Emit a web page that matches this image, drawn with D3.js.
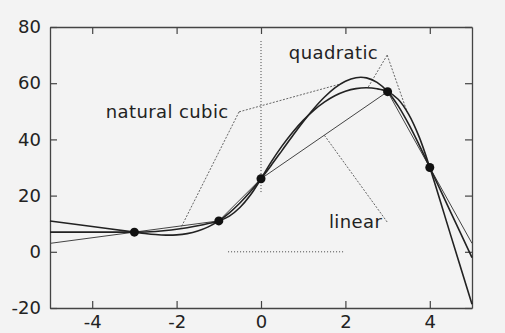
<!DOCTYPE html>
<html>
<head>
<meta charset="utf-8">
<script src="https://cdn.jsdelivr.net/npm/d3@7"></script>
<style>
  body { margin: 0; background: #f3f3f3; }
  text { font-family: "DejaVu Sans", Verdana, sans-serif; fill: #222; }
</style>
</head>
<body>
<script>

// data points the curves pass through
const knotX = [-3, -1, 0, 3, 4];
const knotY = [7, 11, 26, 57, 30];

// linear interpolation (with straight extrapolation at the ends)
const linearX = [-5, -3, -1, 0, 3, 4, 5];
const linearY = [3, 7, 11, 26, 57, 30, 3];

// curves
const sampleX = [-5, -4, -3, -2.75, -2.5, -2.25, -2, -1.75, -1.5, -1.25, -1, -0.75, -0.5, -0.25,
  0, 0.25, 0.5, 0.75, 1, 1.25, 1.5, 1.75, 2, 2.25, 2.5, 2.75, 3, 3.25, 3.5, 3.75, 4, 4.5, 5];
const cubicY = [10.95, 8.98, 7, 6.52, 6.14, 5.94, 6.02, 6.47, 7.39, 8.87, 11, 13.85, 17.35, 21.43,
  26, 30.95, 36.10, 41.28, 46.28, 50.92, 54.99, 58.32, 60.71, 61.96, 61.89, 60.30, 57, 51.91, 45.40, 37.94, 30, 13.97, -2.07];
const quadY = [7, 7, 7, 7.06, 7.25, 7.56, 8, 8.56, 9.25, 10.06, 11, 12.69, 15.75, 20.19,
  26, 32.17, 37.69, 42.56, 46.78, 50.34, 53.25, 55.51, 57.11, 58.06, 58.36, 58.01, 57, 54.31, 48.92, 40.81, 30, 5.67, -18.67];

const xTicks = [-4, -2, 0, 2, 4];
const yTicks = [-20, 0, 20, 40, 60, 80];

// labels and their pointer lines (data units)
const labels = [
  {text: "natural cubic", x: -3.68, y: 47.6},
  {text: "quadratic", x: 0.66, y: 68.6},
  {text: "linear", x: 1.61, y: 8.5}
];
const leaders = [
  [[-0.52, 49.8], [1.85, 59.6]],
  [[-0.52, 49.8], [-1.9, 8.5]],
  [[2.99, 70.0], [2.54, 58.6]],
  [[2.99, 70.0], [3.46, 49.9]],
  [[2.99, 10.6], [1.5, 41.5]]
];

let width = 505,
    height = 333;

let margin = {top: 27, right: 33, bottom: 25, left: 50};

let svg = d3.select('body')
            .append('svg')
            .attr('width', width)
            .attr('height', height)
            .style('display', 'block')

svg.append('rect')
   .attr('width', width)
   .attr('height', height)
   .attr('fill', '#f3f3f3')

let xScale = d3.scaleLinear()
              .domain([-5, 5])
              .range([margin.left, width - margin.right])

let yScale = d3.scaleLinear()
              .domain([-20, 80])
              .range([height - margin.bottom, margin.top])

// frame with inward ticks on all sides
let fmt = d => String(d);

svg.append('g')
   .attr('transform', `translate(0, ${height - margin.bottom})`)
   .call(d3.axisBottom(xScale).tickValues(xTicks).tickFormat(fmt).tickSizeInner(-7).tickSizeOuter(0).tickPadding(7))

svg.append('g')
   .attr('transform', `translate(0, ${margin.top})`)
   .call(d3.axisTop(xScale).tickValues(xTicks).tickFormat('').tickSizeInner(-7).tickSizeOuter(0))

svg.append('g')
   .attr('transform', `translate(${margin.left}, 0)`)
   .call(d3.axisLeft(yScale).tickValues(yTicks).tickFormat(fmt).tickSizeInner(-7).tickSizeOuter(0).tickPadding(9))

svg.append('g')
   .attr('transform', `translate(${width - margin.right}, 0)`)
   .call(d3.axisRight(yScale).tickValues(yTicks).tickFormat('').tickSizeInner(-7).tickSizeOuter(0))

svg.selectAll('.domain').attr('stroke', '#444').attr('stroke-width', 1.3)
svg.selectAll('.tick line').attr('stroke', '#444').attr('stroke-width', 1.2)
svg.selectAll('.tick text').style('font-size', '18px').attr('fill', '#222')

// dotted guide lines
svg.append('line')
   .attr('x1', xScale(0)).attr('x2', xScale(0))
   .attr('y1', yScale(75)).attr('y2', yScale(21))
   .attr('stroke', '#444').attr('stroke-width', 1).attr('stroke-dasharray', '1,2')

svg.append('line')
   .attr('x1', xScale(-0.78)).attr('x2', xScale(1.95))
   .attr('y1', yScale(0)).attr('y2', yScale(0))
   .attr('stroke', '#444').attr('stroke-width', 1).attr('stroke-dasharray', '1,2')

// pointer lines
svg.selectAll('.leader')
   .data(leaders)
   .enter()
   .append('line')
   .attr('class', 'leader')
   .attr('x1', d => xScale(d[0][0]))
   .attr('y1', d => yScale(d[0][1]))
   .attr('x2', d => xScale(d[1][0]))
   .attr('y2', d => yScale(d[1][1]))
   .attr('stroke', '#555')
   .attr('stroke-width', 0.9)
   .attr('stroke-dasharray', '2,1.5')

// curves
let plot = svg.append('g');

let linePts = linearX.map((x, i) => [x, linearY[i]]);
let cubicPts = sampleX.map((x, i) => [x, cubicY[i]]);
let quadPts = sampleX.map((x, i) => [x, quadY[i]]);

let straight = d3.line()
                 .x(d => xScale(d[0]))
                 .y(d => yScale(d[1]))

let smooth = d3.line()
               .x(d => xScale(d[0]))
               .y(d => yScale(d[1]))
               .curve(d3.curveCatmullRom)

plot.append('path')
    .attr('d', straight(linePts))
    .attr('fill', 'none')
    .attr('stroke', '#444')
    .attr('stroke-width', 1)

plot.append('path')
    .attr('d', smooth(quadPts))
    .attr('fill', 'none')
    .attr('stroke', '#222')
    .attr('stroke-width', 1.6)

plot.append('path')
    .attr('d', smooth(cubicPts))
    .attr('fill', 'none')
    .attr('stroke', '#222')
    .attr('stroke-width', 1.6)

// knots
plot.selectAll('.knot')
    .data(knotX)
    .enter()
    .append('circle')
    .attr('class', 'knot')
    .attr('cx', d => xScale(d))
    .attr('cy', (d, i) => yScale(knotY[i]))
    .attr('r', 4.5)
    .attr('fill', '#111')

// label text
svg.selectAll('.label')
   .data(labels)
   .enter()
   .append('text')
   .attr('class', 'label')
   .attr('x', d => xScale(d.x))
   .attr('y', d => yScale(d.y))
   .text(d => d.text)
   .style('font-size', '18px')
   .style('letter-spacing', '0.4px')

</script>
</body>
</html>
